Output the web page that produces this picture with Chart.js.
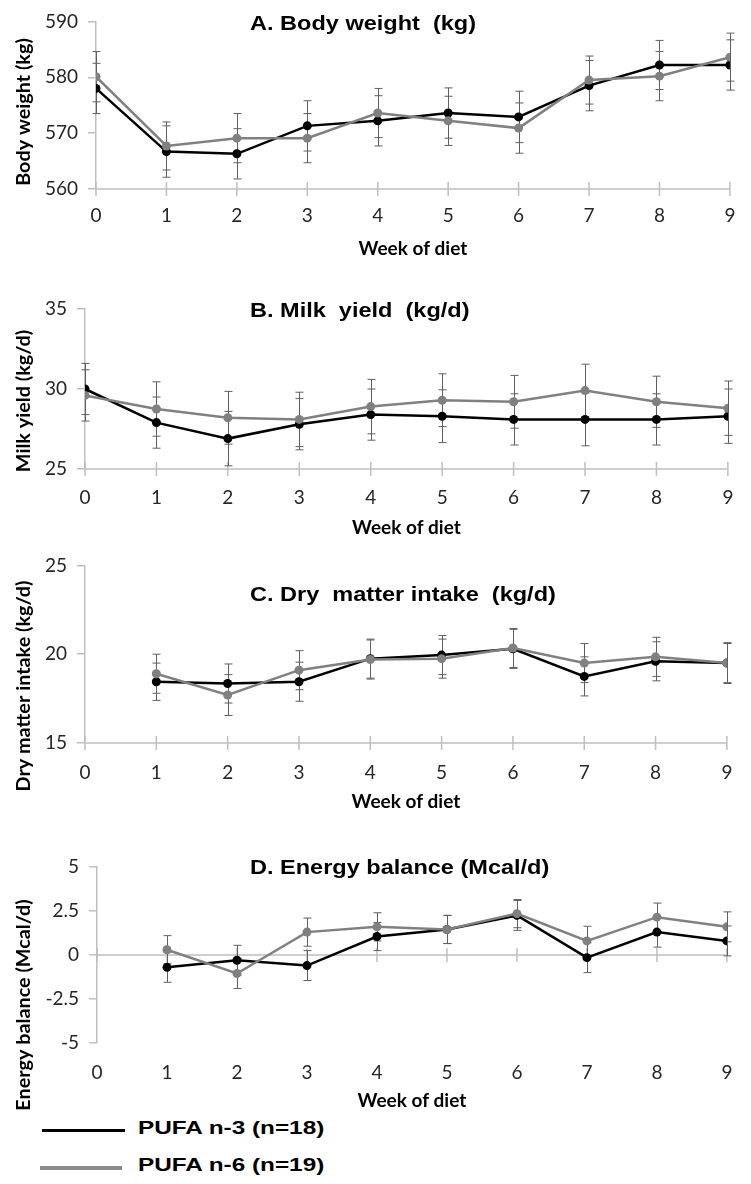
<!DOCTYPE html>
<html>
<head>
<meta charset="utf-8">
<script src="https://cdn.jsdelivr.net/npm/chart.js@4/dist/chart.umd.min.js"></script>
<style>
  html, body { margin: 0; padding: 0; background: #fff; }
  #page { position: relative; width: 751px; height: 1184px; overflow: hidden; }
  #page canvas { position: absolute; left: 0; }
  .legend-row { position: absolute; left: 0; height: 30px; width: 400px; }
  .legend-row .swatch { position: absolute; top: 13px; }
  .legend-row span { position: absolute; left: 138px; top: 1px; font: bold 19px "Liberation Sans", Arial, sans-serif; color: #000;
    transform: scaleX(1.28); transform-origin: left center; white-space: nowrap; }
</style>
</head>
<body>
<div id="page">
  <canvas id="bw"></canvas>
  <canvas id="my"></canvas>
  <canvas id="dmi"></canvas>
  <canvas id="eb"></canvas>
  <div class="legend-row" style="top:1116px"><div class="swatch" style="left:42px;width:83px;height:3px;background:#000"></div><span>PUFA n-3 (n=18)</span></div>
  <div class="legend-row" style="top:1153px"><div class="swatch" style="left:40px;width:82px;height:4px;background:#8c8c8c"></div><span>PUFA n-6 (n=19)</span></div>
</div>
<script>
const weeks = [0, 1, 2, 3, 4, 5, 6, 7, 8, 9];

// A. Body weight (kg)
const bwN3 = [578.0, 566.7, 566.3, 571.3, 572.2, 573.6, 572.9, 578.5, 582.2, 582.2];
const bwN6 = [580.1, 567.7, 569.1, 569.1, 573.6, 572.2, 570.9, 579.5, 580.2, 583.6];
const bwN3Se = [4.5, 4.6, 4.5, 4.5, 4.5, 4.5, 4.6, 4.5, 4.4, 4.5];
const bwN6Se = [4.5, 4.3, 4.4, 4.4, 4.4, 4.4, 4.5, 4.3, 4.4, 4.3];

// B. Milk yield (kg/d)
const myN3 = [30.0, 27.9, 26.9, 27.8, 28.4, 28.3, 28.1, 28.1, 28.1, 28.3];
const myN6 = [29.6, 28.75, 28.2, 28.1, 28.9, 29.3, 29.2, 29.9, 29.2, 28.8];
const myN3Se = [1.6, 1.6, 1.7, 1.6, 1.6, 1.65, 1.6, 1.65, 1.6, 1.7];
const myN6Se = [1.6, 1.7, 1.65, 1.7, 1.7, 1.65, 1.65, 1.65, 1.6, 1.7];

// C. Dry matter intake (kg/d)
const dmiN3 = [null, 18.45, 18.35, 18.45, 19.75, 19.95, 20.3, 18.75, 19.6, 19.5];
const dmiN6 = [null, 18.9, 17.7, 19.1, 19.7, 19.75, 20.35, 19.5, 19.85, 19.5];
const dmiN3Se = [null, 1.05, 1.1, 1.1, 1.1, 1.1, 1.1, 1.1, 1.1, 1.1];
const dmiN6Se = [null, 1.1, 1.15, 1.1, 1.1, 1.1, 1.1, 1.1, 1.1, 1.15];

// D. Energy balance (Mcal/d)
const ebN3 = [null, -0.7, -0.3, -0.6, 1.05, 1.45, 2.25, -0.15, 1.3, 0.8];
const ebN6 = [null, 0.3, -1.05, 1.3, 1.6, 1.45, 2.35, 0.8, 2.15, 1.6];
const ebN3Se = [null, 0.85, 0.85, 0.85, 0.8, 0.8, 0.85, 0.85, 0.85, 0.85];
const ebN6Se = [null, 0.8, 0.85, 0.8, 0.8, 0.8, 0.8, 0.83, 0.8, 0.85];

const seriesNames = ['PUFA n-3 (n=18)', 'PUFA n-6 (n=19)'];
const seriesColors = ['#000000', '#808080'];

const AXIS_GREY = '#bfbfbf';
const TICK_FONT = { family: 'Lato, "Open Sans", sans-serif', size: 19 };

// draws error bars, the x axis line with crossing ticks, and the titles
const panelDecor = {
  id: 'panelDecor',
  beforeDatasetsDraw(chart) {
    const { ctx, scales: { x, y } } = chart;
    const p = chart.options.plugins.panelDecor;
    // horizontal axis line (at y min, or at 0 for energy balance)
    const yAxis = y.getPixelForValue(p.axisAt);
    ctx.save();
    ctx.strokeStyle = AXIS_GREY;
    ctx.lineWidth = 1.5;
    ctx.beginPath();
    ctx.moveTo(x.left, yAxis);
    ctx.lineTo(x.right, yAxis);
    weeks.forEach(w => {
      const px = x.getPixelForValue(w);
      ctx.moveTo(px, yAxis - 7);
      ctx.lineTo(px, yAxis + 7);
    });
    ctx.stroke();
    // error bars
    ctx.strokeStyle = '#5f5f5f';
    ctx.lineWidth = 1;
    p.errors.forEach((errs, di) => {
      const vals = chart.data.datasets[di].raw;
      errs.forEach((e, i) => {
        if (e == null || vals[i] == null) return;
        const px = Math.round(x.getPixelForValue(weeks[i])) + 0.5;
        const hi = y.getPixelForValue(vals[i] + e);
        const lo = y.getPixelForValue(vals[i] - e);
        ctx.beginPath();
        ctx.moveTo(px, hi); ctx.lineTo(px, lo);
        ctx.moveTo(px - 4, hi); ctx.lineTo(px + 4, hi);
        ctx.moveTo(px - 4, lo); ctx.lineTo(px + 4, lo);
        ctx.stroke();
      });
    });
    ctx.restore();
  },
  afterDraw(chart) {
    const { ctx } = chart;
    const p = chart.options.plugins.panelDecor;
    ctx.save();
    ctx.fillStyle = '#000';
    ctx.font = 'bold 21px "Liberation Sans", Arial, sans-serif';
    ctx.textAlign = 'left';
    ctx.textBaseline = 'middle';
    ctx.translate(250, p.titleY);
    ctx.scale(1.12, 1);
    ctx.fillText(p.title, 0, 0);
    ctx.restore();

    ctx.save();
    ctx.fillStyle = '#000';
    ctx.translate(24, p.yTitleY);
    ctx.rotate(-Math.PI / 2);
    ctx.scale(1.1, 1);
    ctx.textAlign = 'center';
    ctx.textBaseline = 'middle';
    ctx.font = 'bold 18px Lato, "Open Sans", sans-serif';
    ctx.fillText(p.yTitle, 0, 0);
    ctx.restore();
  }
};

function makePanel(cfg) {
  const canvas = document.getElementById(cfg.id);
  canvas.style.top = cfg.top + 'px';
  canvas.width = 751;
  canvas.height = cfg.height;
  canvas.style.width = '751px';
  canvas.style.height = cfg.height + 'px';

  const rel = v => v - cfg.top;
  const tickLH = TICK_FONT.size * 1.2;
  const titleSize = 19;
  const titleLH = titleSize * 1.2;

  const datasets = cfg.series.map((vals, i) => ({
    label: seriesNames[i],
    raw: vals,
    data: weeks.map((w, j) => ({ x: w, y: vals[j] })).filter(d => d.y != null),
    borderColor: seriesColors[i],
    backgroundColor: seriesColors[i],
    borderWidth: 2.5,
    pointRadius: 4.5,
    pointHoverRadius: 4.5,
    pointBorderWidth: 0,
    tension: 0,
    order: 1 - i
  }));

  return new Chart(canvas, {
    type: 'line',
    data: { datasets },
    plugins: [panelDecor],
    options: {
      responsive: false,
      animation: false,
      events: [],
      layout: { padding: { top: rel(cfg.areaTop), right: 751 - 742, left: 0, bottom: 0 } },
      plugins: {
        legend: { display: false },
        tooltip: { enabled: false },
        panelDecor: {
          errors: cfg.errors,
          axisAt: cfg.axisAt,
          title: cfg.title,
          titleY: rel(cfg.titleY),
          yTitle: cfg.yTitle,
          yTitleY: rel(cfg.yTitleY)
        }
      },
      scales: {
        x: {
          type: 'linear',
          min: 0,
          max: 9,
          afterFit: s => { s.height = cfg.height - rel(cfg.areaBottom); },
          border: { display: false },
          grid: { display: false, drawTicks: false },
          ticks: {
            stepSize: 1,
            color: '#262626',
            font: TICK_FONT,
            padding: cfg.tickLabelY - cfg.areaBottom - tickLH / 2
          },
          title: {
            display: true,
            text: 'Week of diet',
            color: '#000',
            font: { family: 'Lato, "Open Sans", sans-serif', size: titleSize, weight: 'bold' },
            padding: { top: 0, bottom: cfg.height - rel(cfg.xTitleY) - titleLH / 2 }
          }
        },
        y: {
          min: cfg.yMin,
          max: cfg.yMax,
          afterFit: s => { s.width = cfg.areaLeft; },
          border: { color: AXIS_GREY, width: 1.5 },
          grid: { drawOnChartArea: false, color: AXIS_GREY, tickLength: 8, lineWidth: 1.5 },
          ticks: {
            stepSize: cfg.yStep,
            color: '#262626',
            font: TICK_FONT,
            padding: 10
          }
        }
      }
    }
  });
}

makePanel({
  id: 'bw', top: 0, height: 272,
  areaLeft: 96, areaTop: 20, areaBottom: 189, tickLabelY: 216, xTitleY: 249,
  yMin: 560, yMax: 590, yStep: 10, axisAt: 560,
  series: [bwN3, bwN6], errors: [bwN3Se, bwN6Se],
  title: 'A. Body weight  (kg)', titleY: 24,
  yTitle: 'Body weight (kg)', yTitleY: 112
});

makePanel({
  id: 'my', top: 272, height: 272,
  areaLeft: 85, areaTop: 309, areaBottom: 469, tickLabelY: 498, xTitleY: 528,
  yMin: 25, yMax: 35, yStep: 5, axisAt: 25,
  series: [myN3, myN6], errors: [myN3Se, myN6Se],
  title: 'B. Milk  yield  (kg/d)', titleY: 311,
  yTitle: 'Milk yield (kg/d)', yTitleY: 401
});

makePanel({
  id: 'dmi', top: 544, height: 272,
  areaLeft: 85, areaTop: 561, areaBottom: 743, tickLabelY: 773, xTitleY: 802,
  yMin: 15, yMax: 25, yStep: 5, axisAt: 15,
  series: [dmiN3, dmiN6], errors: [dmiN3Se, dmiN6Se],
  title: 'C. Dry  matter intake  (kg/d)', titleY: 595,
  yTitle: 'Dry matter intake (kg/d)', yTitleY: 686
});

makePanel({
  id: 'eb', top: 816, height: 300,
  areaLeft: 97, areaTop: 867, areaBottom: 1043, tickLabelY: 1073, xTitleY: 1101,
  yMin: -5, yMax: 5, yStep: 2.5, axisAt: 0,
  series: [ebN3, ebN6], errors: [ebN3Se, ebN6Se],
  title: 'D. Energy balance (Mcal/d)', titleY: 868,
  yTitle: 'Energy balance (Mcal/d)', yTitleY: 1005
});
</script>
</body>
</html>
